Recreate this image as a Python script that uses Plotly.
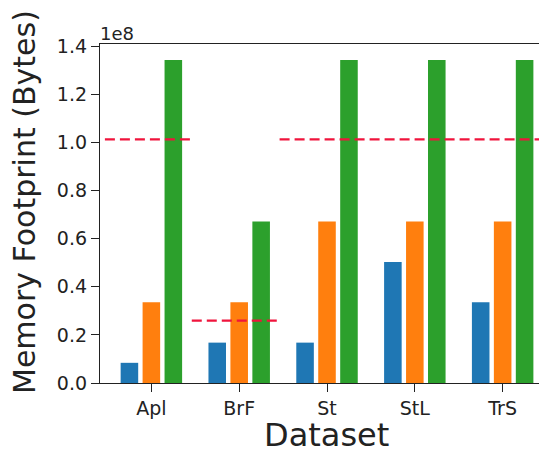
import plotly.graph_objects as go

datasets = ["Apl", "BrF", "St", "StL", "TrS"]
series_names = ["A", "B", "C"]
series_blue = [8388608, 16777216, 16777216, 50331648, 33554432]
series_orange = [33554432, 33554432, 67108864, 67108864, 67108864]
series_green = [134217728, 67108864, 134217728, 134217728, 134217728]
limits = [1.013e8, 0.259e8, 1.013e8, 1.013e8, 1.013e8]
ytick_vals = [0, 0.2e8, 0.4e8, 0.6e8, 0.8e8, 1.0e8, 1.2e8, 1.4e8]
ytick_text = ["0.0", "0.2", "0.4", "0.6", "0.8", "1.0", "1.2", "1.4"]

colors = ["#1f77b4", "#ff7f0e", "#2ca02c"]
FONT = "DejaVu Sans"

xidx = list(range(len(datasets)))
fig = go.Figure()
for name, vals, c in zip(series_names, [series_blue, series_orange, series_green], colors):
    fig.add_trace(go.Bar(x=xidx, y=vals, name=name, marker=dict(color=c, line=dict(width=0)),
                         showlegend=False))

# dashed limit line, contiguous where consecutive limits are equal
lx, ly = [], []
n = len(datasets)
for i, v in enumerate(limits):
    x0 = -0.7 if i == 0 else i - 0.54
    x1 = n - 0.3 if i == n - 1 else i + 0.46
    lx += [x0, x1]
    ly += [v, v]
    if i < n - 1 and limits[i + 1] != v:
        lx.append(None)
        ly.append(None)
fig.add_trace(go.Scatter(x=lx, y=ly, mode="lines", connectgaps=False,
                         line=dict(color="#f0143c", width=2.2, dash="10px,5px"),
                         showlegend=False, hoverinfo="skip"))

# page body has an 8px margin; the figure is sized so the plot lands where the reference has it
fig.update_layout(
    width=539, height=442,
    margin=dict(l=92, r=0, t=36, b=67),
    paper_bgcolor="white", plot_bgcolor="white",
    barmode="group", bargap=0.25, bargroupgap=0.2,
    font=dict(family=FONT, color="#222222", size=19),
)
fig.update_xaxes(
    range=[-0.585, 4.505], tickmode="array", tickvals=xidx, ticktext=datasets,
    showline=True, linecolor="#222222", linewidth=1.3, mirror=True,
    ticks="outside", ticklen=8, tickwidth=1.3, tickcolor="#222222",
    showgrid=False, zeroline=False, tickfont=dict(size=19, family=FONT),
)
fig.update_yaxes(
    range=[0, 1.409e8], tickmode="array", tickvals=ytick_vals, ticktext=ytick_text,
    showline=True, linecolor="#222222", linewidth=1.3, mirror=False,
    ticks="outside", ticklen=8, tickwidth=1.3, tickcolor="#222222",
    showgrid=False, zeroline=False, tickfont=dict(size=19, family=FONT),
)
fig.add_annotation(text="1e8", xref="paper", yref="paper", x=0, y=1, xanchor="left",
                   yanchor="bottom", showarrow=False, font=dict(size=18, family=FONT),
                   xshift=-2, yshift=-2)
fig.add_annotation(text="Memory Footprint (Bytes)", xref="paper", yref="paper",
                   x=0, y=0.534, xshift=-75, xanchor="center", yanchor="middle",
                   textangle=-90, showarrow=False, font=dict(size=30, family=FONT))
fig.add_annotation(text="Dataset", xref="paper", yref="paper",
                   x=0.5056, y=-0.152, xanchor="center", yanchor="middle",
                   showarrow=False, font=dict(size=32, family=FONT))

fig.write_html("out.html")
